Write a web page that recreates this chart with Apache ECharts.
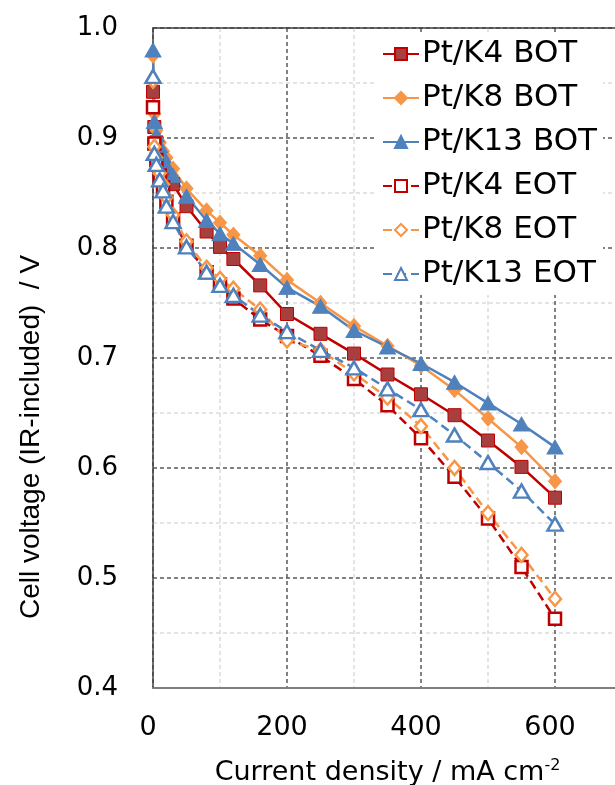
<!DOCTYPE html>
<html>
<head>
<meta charset="utf-8">
<script src="https://cdn.jsdelivr.net/npm/echarts@6/dist/echarts.min.js"></script>
<style>
html,body{margin:0;padding:0;background:#fff;overflow:hidden;}
#chart{width:615px;height:785px;}
</style>
</head>
<body>
<div id="chart"></div>
<script>
const currentDensity = [0, 2, 5, 10, 15, 20, 30, 50, 80, 100, 120, 160, 200, 250, 300, 350, 400, 450, 500, 550, 600];
const k4BOT  = [0.942, 0.910, 0.896, 0.885, 0.876, 0.868, 0.858, 0.838, 0.815, 0.801, 0.790, 0.766, 0.740, 0.722, 0.704, 0.685, 0.667, 0.648, 0.625, 0.601, 0.573];
const k8BOT  = [0.975, 0.922, 0.907, 0.896, 0.888, 0.882, 0.872, 0.854, 0.834, 0.823, 0.812, 0.793, 0.771, 0.750, 0.729, 0.711, 0.693, 0.671, 0.645, 0.619, 0.588];
const k13BOT = [0.980, 0.915, 0.903, 0.893, 0.884, 0.875, 0.866, 0.847, 0.825, 0.813, 0.804, 0.785, 0.764, 0.747, 0.725, 0.710, 0.695, 0.678, 0.659, 0.640, 0.619];
const k4EOT  = [0.928, 0.895, 0.880, 0.866, 0.855, 0.842, 0.826, 0.802, 0.778, 0.767, 0.754, 0.735, 0.720, 0.702, 0.681, 0.657, 0.627, 0.592, 0.554, 0.510, 0.463];
const k8EOT  = [0.952, 0.892, 0.882, 0.868, 0.858, 0.846, 0.830, 0.806, 0.782, 0.772, 0.763, 0.744, 0.716, 0.707, 0.686, 0.664, 0.638, 0.600, 0.559, 0.521, 0.481];
const k13EOT = [0.956, 0.886, 0.876, 0.862, 0.852, 0.838, 0.824, 0.801, 0.778, 0.766, 0.757, 0.739, 0.724, 0.707, 0.691, 0.672, 0.653, 0.630, 0.605, 0.579, 0.549];
const seriesNames = ['Pt/K4 BOT', 'Pt/K8 BOT', 'Pt/K13 BOT', 'Pt/K4 EOT', 'Pt/K8 EOT', 'Pt/K13 EOT'];
const xTickLabels = ['0', '200', '400', '600'];
const yTickLabels = ['0.4', '0.5', '0.6', '0.7', '0.8', '0.9', '1.0'];

const RED = '#C00000', RED_FILL = '#A83F3F', ORANGE = '#F79646', BLUE = '#4F81BD';
const FONT = 'DejaVu Sans';

function pairs(vals) { return currentDensity.map((x, i) => [x, vals[i]]); }

function mk(name, vals, color, fill, symbol, size, dashed) {
  return {
    name: name, type: 'line', data: pairs(vals),
    symbol: symbol, symbolSize: size,
    showAllSymbol: true,
    lineStyle: { color: color, width: 2.5, type: dashed ? [9, 5] : 'solid' },
    itemStyle: dashed
      ? { color: '#ffffff', borderColor: color, borderWidth: 2.5 }
      : { color: fill, borderColor: color, borderWidth: 1 },
    emphasis: { disabled: true },
    animation: false
  };
}

const chart = echarts.init(document.getElementById('chart'), null, { renderer: 'canvas' });
chart.setOption({
  animation: false,
  backgroundColor: '#ffffff',
  textStyle: { fontFamily: FONT, color: '#000' },
  grid: { left: 153, top: 28, right: -7, bottom: 97, outerBoundsMode: 'none', containLabel: false, show: false },
  legend: {
    orient: 'vertical', left: 376, top: 33,
    backgroundColor: '#ffffff', padding: [4, 6, 4, 6],
    itemWidth: 36, itemHeight: 15, itemGap: 10,
    textStyle: { fontFamily: FONT, fontSize: 31, color: '#000', lineHeight: 34, padding: [0, 0, 0, -2] },
    data: seriesNames
  },
  xAxis: [{
    type: 'value', min: 0, max: 700, interval: 100,
    axisLine: { show: true, onZero: false, lineStyle: { color: '#7f7f7f', width: 2 } },
    axisTick: { show: false },
    axisLabel: {
      fontFamily: FONT, fontSize: 27, color: '#000', margin: 26, padding: [0, 10, 0, 0],
      formatter: function (v) { const s = String(v); return xTickLabels.indexOf(s) >= 0 ? s : ''; }
    },
    splitLine: { show: true, showMaxLine: false, lineStyle: { color: ['#595959', '#dcdcdc'], width: 1.5, type: [4, 3] } },
    name: '{a|Current density / mA cm}{s|-2}',
    nameLocation: 'middle', nameGap: 70,
    nameTextStyle: {
      rich: {
        a: { fontFamily: FONT, fontSize: 27, color: '#000' },
        s: { fontFamily: FONT, fontSize: 16, color: '#000', padding: [0, 0, 14, 0] }
      }
    }
  }, {
    type: 'value', position: 'top', min: 0, max: 700,
    axisLine: { show: true, onZero: false, lineStyle: { color: '#404040', width: 1.5 } },
    axisTick: { show: false }, axisLabel: { show: false }, splitLine: { show: false }
  }],
  yAxis: {
    type: 'value', min: 0.4, max: 1.0, interval: 0.05,
    axisLine: { show: true, onZero: false, lineStyle: { color: '#404040', width: 1.5 } },
    axisTick: { show: false },
    axisLabel: {
      fontFamily: FONT, fontSize: 26, color: '#000', margin: 35,
      formatter: function (v) { const t = v.toFixed(1); return (Math.abs(v * 10 - Math.round(v * 10)) < 1e-6 && yTickLabels.indexOf(t) >= 0) ? t : ''; }
    },
    splitLine: { show: true, lineStyle: { color: ['#595959', '#dcdcdc'], width: 1.5, type: [4, 3] } },
    name: 'Cell voltage (IR-included)  / V',
    nameLocation: 'middle', nameGap: 108,
    nameTextStyle: { fontFamily: 'Liberation Sans', fontSize: 28, color: '#000', padding: [0, 158, 0, 0] }
  },
  series: [
    mk(seriesNames[0], k4BOT, RED, RED_FILL, 'rect', 13, false),
    mk(seriesNames[1], k8BOT, ORANGE, ORANGE, 'diamond', [13, 15], false),
    mk(seriesNames[2], k13BOT, BLUE, BLUE, 'triangle', [16, 14], false),
    mk(seriesNames[3], k4EOT, RED, RED, 'rect', 12, true),
    mk(seriesNames[4], k8EOT, ORANGE, ORANGE, 'diamond', [12, 14], true),
    mk(seriesNames[5], k13EOT, BLUE, BLUE, 'triangle', [15, 13], true)
  ]
});
</script>
</body>
</html>
